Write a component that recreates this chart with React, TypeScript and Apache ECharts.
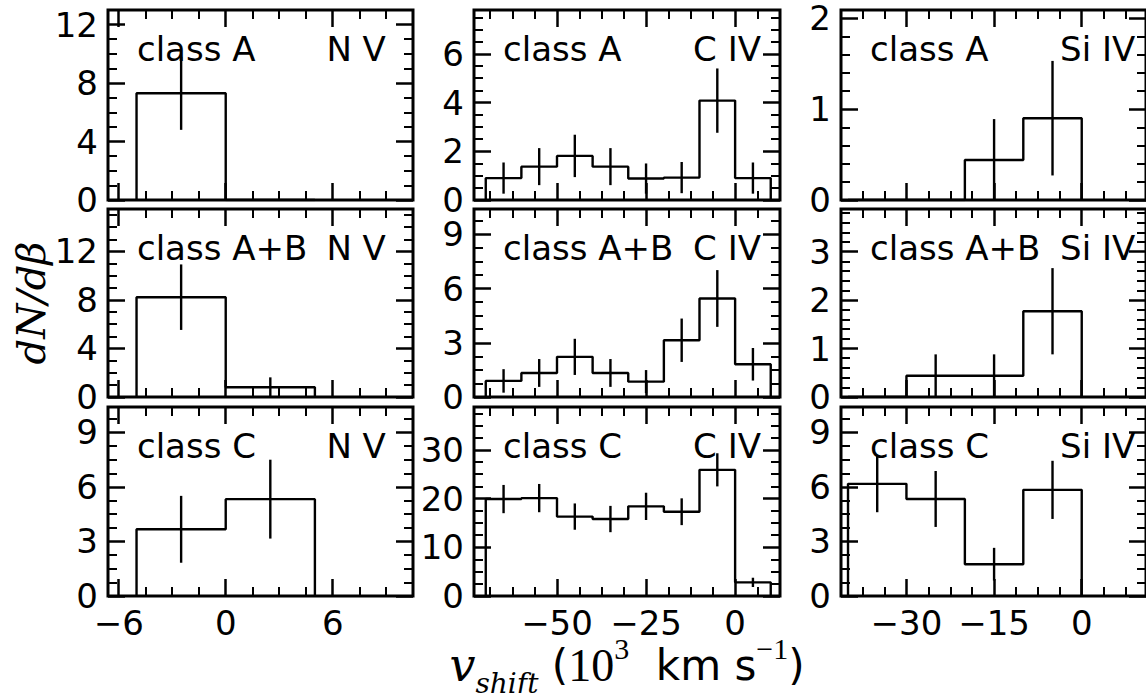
import React, { useEffect, useRef } from 'react';
import * as echarts from 'echarts';

// ---- bin edges (10^3 km/s) ----
const nvEdges = [-5, 0, 5];
const civEdges = [-70, -60, -50, -40, -30, -20, -10, 0, 10];
const siivEdges = [-40, -30, -20, -10, 0];

// ---- dN/dbeta values and errors ----
const nvA = [7.3, 0];
const nvAErr = [2.5, 0];
const civA = [0.9, 1.37, 1.81, 1.37, 0.88, 0.92, 4.08, 0.9];
const civAErr = [0.64, 0.76, 0.87, 0.76, 0.62, 0.64, 1.32, 0.64];
const siivA = [0, 0, 0.44, 0.9];
const siivAErr = [0, 0, 0.45, 0.63];

const nvAB = [8.23, 0.8];
const nvABErr = [2.7, 0.82];
const civAB = [0.89, 1.33, 2.22, 1.33, 0.85, 3.14, 5.45, 1.81];
const civABErr = [0.65, 0.77, 1.0, 0.77, 0.64, 1.2, 1.57, 0.9];
const siivAB = [0, 0.44, 0.44, 1.77];
const siivABErr = [0, 0.44, 0.44, 0.89];

const nvC = [3.67, 5.33];
const nvCErr = [1.84, 2.17];
const civC = [19.9, 20.1, 16.3, 15.8, 18.4, 17.3, 25.9, 2.8];
const civCErr = [2.9, 2.9, 2.7, 2.7, 2.8, 2.75, 3.4, 0.95];
const siivC = [6.17, 5.34, 1.75, 5.84];
const siivCErr = [1.56, 1.54, 0.9, 1.6];

// ---- labels ----
const classLabels = ['class A', 'class A+B', 'class C'];
const ionLabels = ['N V', 'C IV', 'Si IV'];

// ---- axes ----
const xRanges = [[-6.6, 10.5], [-73.3, 12.6], [-41.2, 11]];
const xTickLabels = [[-6, 0, 6], [-50, -25, 0], [-30, -15, 0]];
const xMinorSteps = [1.5, 6.25, 3.75];
const yMaxes = [13, 7.8, 2.09, 15.5, 10.4, 3.88, 10.4, 38.8, 10.4];
const yTickLabels = [
  [0, 4, 8, 12], [0, 2, 4, 6], [0, 1, 2],
  [0, 4, 8, 12], [0, 3, 6, 9], [0, 1, 2, 3],
  [0, 3, 6, 9], [0, 10, 20, 30], [0, 3, 6, 9],
];
const yMinorSteps = [1, 0.5, 0.2, 1, 0.75, 0.2, 0.75, 2.5, 0.75];

const panels = [
  { edges: nvEdges, vals: nvA, errs: nvAErr },
  { edges: civEdges, vals: civA, errs: civAErr },
  { edges: siivEdges, vals: siivA, errs: siivAErr },
  { edges: nvEdges, vals: nvAB, errs: nvABErr },
  { edges: civEdges, vals: civAB, errs: civABErr },
  { edges: siivEdges, vals: siivAB, errs: siivABErr },
  { edges: nvEdges, vals: nvC, errs: nvCErr },
  { edges: civEdges, vals: civC, errs: civCErr },
  { edges: siivEdges, vals: siivC, errs: siivCErr },
];

// ---- layout ----
const colLeft = [108, 474, 841];
const colW = [305, 306, 306];
const rowTop = [10, 209, 407];
const rowH = [190, 188, 189];

const SANS = 'DejaVu Sans';
const FS = 34;

function minorTicks(min: number, max: number, step: number, majors: number[]) {
  const out: number[] = [];
  const k0 = Math.ceil(min / step - 1e-9);
  const k1 = Math.floor(max / step + 1e-9);
  for (let k = k0; k <= k1; k++) {
    const v = +(k * step).toFixed(6);
    if (majors.some((m) => Math.abs(m - v) < 1e-6)) continue;
    out.push(v);
  }
  return out;
}

function stepPoints(edges: number[], vals: number[]) {
  const pts: number[][] = [[edges[0], 0]];
  vals.forEach((v, i) => {
    pts.push([edges[i], v]);
    pts.push([edges[i + 1], v]);
  });
  pts.push([edges[edges.length - 1], 0]);
  return pts;
}

const fmt = (v: number) => String(v).replace('-', '\u2212');

function buildOption() {
  const grid: any[] = [];
  const xAxis: any[] = [];
  const yAxis: any[] = [];
  const series: any[] = [];
  const graphic: any[] = [];

  panels.forEach((p, i) => {
    const r = Math.floor(i / 3);
    const c = i % 3;
    grid.push({
      left: colLeft[c], top: rowTop[r], width: colW[c], height: rowH[r],
      show: true, borderColor: '#000', borderWidth: 3, backgroundColor: 'transparent',
    });
    const [xmin, xmax] = xRanges[c];
    const xMaj = xTickLabels[c];
    const xMin = minorTicks(xmin, xmax, xMinorSteps[c], xMaj);
    const ymax = yMaxes[i];
    const yMaj = yTickLabels[i];
    const yMin = minorTicks(0, ymax, yMinorSteps[i], yMaj);

    const axLine = { show: false, onZero: false };
    const xb = { type: 'value', gridIndex: i, min: xmin, max: xmax, axisLine: axLine, splitLine: { show: false } };
    const yb = { type: 'value', gridIndex: i, min: 0, max: ymax, axisLine: axLine, splitLine: { show: false } };
    const maj = (vals: number[]) => ({ inside: true, length: 17, lineStyle: { color: '#000', width: 2.5 }, customValues: vals });
    const mnr = (vals: number[]) => ({ inside: true, length: 9, lineStyle: { color: '#000', width: 2 }, customValues: vals });
    const noLab = { show: false };
    const lab = (vals: number[]) => ({
      show: true, customValues: vals, formatter: fmt, fontSize: FS, fontFamily: SANS, color: '#000', margin: 10,
    });

    xAxis.push({ ...xb, position: 'bottom', axisTick: maj(xMaj), axisLabel: r === 2 ? lab(xMaj) : noLab });
    xAxis.push({ ...xb, position: 'bottom', axisTick: mnr(xMin), axisLabel: noLab });
    xAxis.push({ ...xb, position: 'top', axisTick: maj(xMaj), axisLabel: noLab });
    xAxis.push({ ...xb, position: 'top', axisTick: mnr(xMin), axisLabel: noLab });

    yAxis.push({ ...yb, position: 'left', axisTick: maj(yMaj), axisLabel: lab(yMaj) });
    yAxis.push({ ...yb, position: 'left', axisTick: mnr(yMin), axisLabel: noLab });
    yAxis.push({ ...yb, position: 'right', axisTick: maj(yMaj), axisLabel: noLab });
    yAxis.push({ ...yb, position: 'right', axisTick: mnr(yMin), axisLabel: noLab });

    series.push({
      type: 'line', xAxisIndex: 4 * i, yAxisIndex: 4 * i,
      data: stepPoints(p.edges, p.vals), symbol: 'none',
      lineStyle: { color: '#000', width: 2.4 }, z: 3,
    });

    const errData = p.vals.map((v, k) => [(p.edges[k] + p.edges[k + 1]) / 2, v, p.errs[k]]);
    series.push({
      type: 'custom', xAxisIndex: 4 * i, yAxisIndex: 4 * i, z: 4,
      data: errData,
      renderItem: (params: any, api: any) => {
        const x = api.value(0);
        const v = api.value(1);
        const e = api.value(2);
        if (!e) return null;
        const cs = params.coordSys;
        const p1 = api.coord([x, v - e]);
        const p2 = api.coord([x, v + e]);
        const clamp = (y: number) => Math.max(cs.y, Math.min(cs.y + cs.height, y));
        return {
          type: 'line',
          shape: { x1: p1[0], y1: clamp(p1[1]), x2: p2[0], y2: clamp(p2[1]) },
          style: { stroke: '#000', lineWidth: 2.4 },
        };
      },
    });

    graphic.push({
      type: 'text', x: colLeft[c] + 0.095 * colW[c], y: rowTop[r] + 39, z: 10,
      style: { text: classLabels[r], font: `${FS}px ${SANS}`, fill: '#000', align: 'left', verticalAlign: 'middle' },
    });
    graphic.push({
      type: 'text', x: colLeft[c] + 0.716 * colW[c], y: rowTop[r] + 39, z: 10,
      style: { text: ionLabels[c], font: `${FS}px ${SANS}`, fill: '#000', align: 'left', verticalAlign: 'middle' },
    });
  });

  // y axis title
  graphic.push({
    type: 'text', x: 31, y: 303, rotation: Math.PI / 2, z: 10,
    style: {
      text: 'dN/dβ', font: 'italic 40px "DejaVu Serif"', fill: '#000', align: 'center', verticalAlign: 'middle',
    },
  });
  // x axis title
  graphic.push({
    type: 'text', x: 627, y: 665, z: 10,
    style: {
      text: '{v|v}{sub|shift}{n| (}{r|10}{sup|3}{n|  km s}{sup|\u22121}{n|)}',
      align: 'center', verticalAlign: 'middle', fill: '#000',
      rich: {
        v: { fontFamily: 'DejaVu Serif', fontStyle: 'italic', fontSize: 46, lineHeight: 64, verticalAlign: 'middle' },
        sub: { fontFamily: 'DejaVu Serif', fontStyle: 'italic', fontSize: 28, lineHeight: 24, verticalAlign: 'bottom' },
        n: { fontFamily: SANS, fontSize: 42, lineHeight: 64, verticalAlign: 'middle' },
        r: { fontFamily: 'Liberation Serif', fontSize: 46, lineHeight: 64, verticalAlign: 'middle' },
        sup: { fontFamily: 'Liberation Serif', fontSize: 30, lineHeight: 40, verticalAlign: 'top' },
      },
    },
  });

  return { animation: false, backgroundColor: '#fff', grid, xAxis, yAxis, series, graphic };
}

export default function App() {
  const ref = useRef<HTMLDivElement>(null);
  useEffect(() => {
    if (!ref.current) return;
    const chart = echarts.init(ref.current, undefined, { renderer: 'svg' });
    chart.setOption(buildOption() as any);
    return () => chart.dispose();
  }, []);
  return <div ref={ref} style={{ position: 'absolute', left: 0, top: 0, width: 1146, height: 693 }} />;
}
